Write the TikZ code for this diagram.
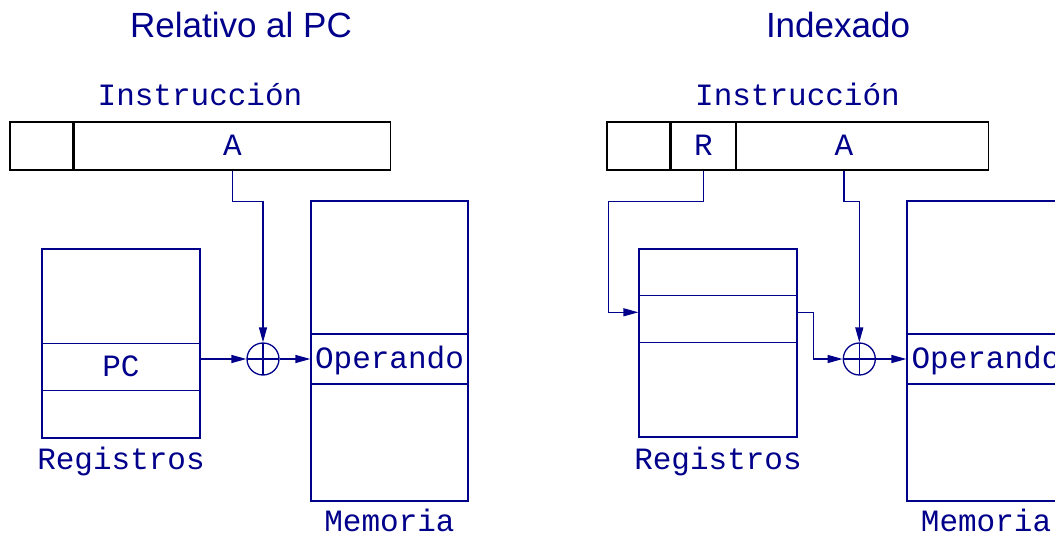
\documentclass[tikz,border=0pt]{standalone}
\usepackage{fontspec}
\setmainfont{Liberation Sans}
\setmonofont{Liberation Mono}
\usetikzlibrary{calc,positioning}
\definecolor{Tinta}{RGB}{0,0,139}
\usetikzlibrary{arrows.meta}

\begin{document}
\begin{tikzpicture}[x=1pt, y=-1pt, line width=1.3pt, color=Tinta,
		Flecha/.style={arrows = -{Triangle[length=15pt, width=8pt]}},
		Celda/.style={draw, rectangle, inner sep=0pt, text height=18pt, text depth=0pt, font=\fontsize{31}{36}\ttfamily},
		Campo/.style={Celda, draw=black, minimum height=48pt},
		Suma/.style={draw, circle, minimum size=32pt, inner sep=0pt,
			path picture={\draw (path picture bounding box.north) -- (path picture bounding box.south)
				(path picture bounding box.west) -- (path picture bounding box.east);}},
		Titulo/.style={font=\fontsize{35}{40}\selectfont, anchor=base},
		Rotulo/.style={font=\fontsize{31}{36}\ttfamily, anchor=base}]
				\useasboundingbox (0,0) rectangle (1055,535);
				\clip (0,0) rectangle (1055,535);
				% Relativo al PC
				\node[Titulo] (t1) at (241,38) {Relativo al PC};
				\node[Rotulo] (n1) at (200,106) {Instrucción};
				\node[Campo, minimum width=63pt] (c1) at (41.5,146) {};
				\node[Campo, minimum width=316pt, right=0pt of c1] (a1) {A};
				\node[Celda, minimum width=158pt, minimum height=189pt] (g1) at (121,343.5) {};
				\node[Celda, minimum width=158pt, minimum height=47pt] (pc) at (121,367) {PC};
				\node[Rotulo] (l1) at (121,469) {Registros};
				\node[Suma] (s1) at (263,359) {};
				\node[Celda, minimum width=157pt, minimum height=300pt] (m1) at (389.5,351) {};
				\node[Celda, minimum width=157pt, minimum height=50pt] (o1) at (389.5,359) {Operando};
				\node[Rotulo] (k1) at (389.5,531) {Memoria};
				\draw[Flecha] (a1.south) -- ++(0,31) -| (s1.north);
				\draw[Flecha] (pc.east |- s1) -- (s1.west);
				\draw[Flecha] (s1.east) -- (s1 -| m1.west);
				% Indexado
				\node[Titulo] (t2) at (838,38) {Indexado};
				\node[Rotulo] (n2) at (797.5,106) {Instrucción};
				\node[Campo, minimum width=63pt] (c2) at (638.5,146) {};
				\node[Campo, minimum width=64pt, right=0pt of c2] (r2) {R};
				\node[Campo, minimum width=252pt, right=0pt of r2] (a2) {};
				\node[Celda, draw=none] (x2) at (844,146) {A};
				\node[Celda, minimum width=158pt, minimum height=188pt] (g2) at (718,343) {};
				\node[Celda, minimum width=158pt, minimum height=47pt] (rs) at (718,319.3) {};
				\node[Rotulo] (l2) at (718,469) {Registros};
				\node[Suma] (s2) at (859.3,359) {};
				\node[Celda, minimum width=158pt, minimum height=300pt] (m2) at (986,351) {};
				\node[Celda, minimum width=158pt, minimum height=50pt] (o2) at (986,359) {Operando};
				\node[Rotulo] (k2) at (986,531) {Memoria};
				\draw[Flecha] (r2.south) |- ++(-95,31) |- ($(rs.west)+(0,-7)$);
				\draw[Flecha] ($(rs.east)+(0,-7)$) -- ++(16,0) |- (s2.west);
				\draw[Flecha] (x2 |- a2.south) -- ++(0,31) -| (s2.north);
				\draw[Flecha] (s2.east) -- (s2 -| m2.west);
			\end{tikzpicture}
\end{document}
